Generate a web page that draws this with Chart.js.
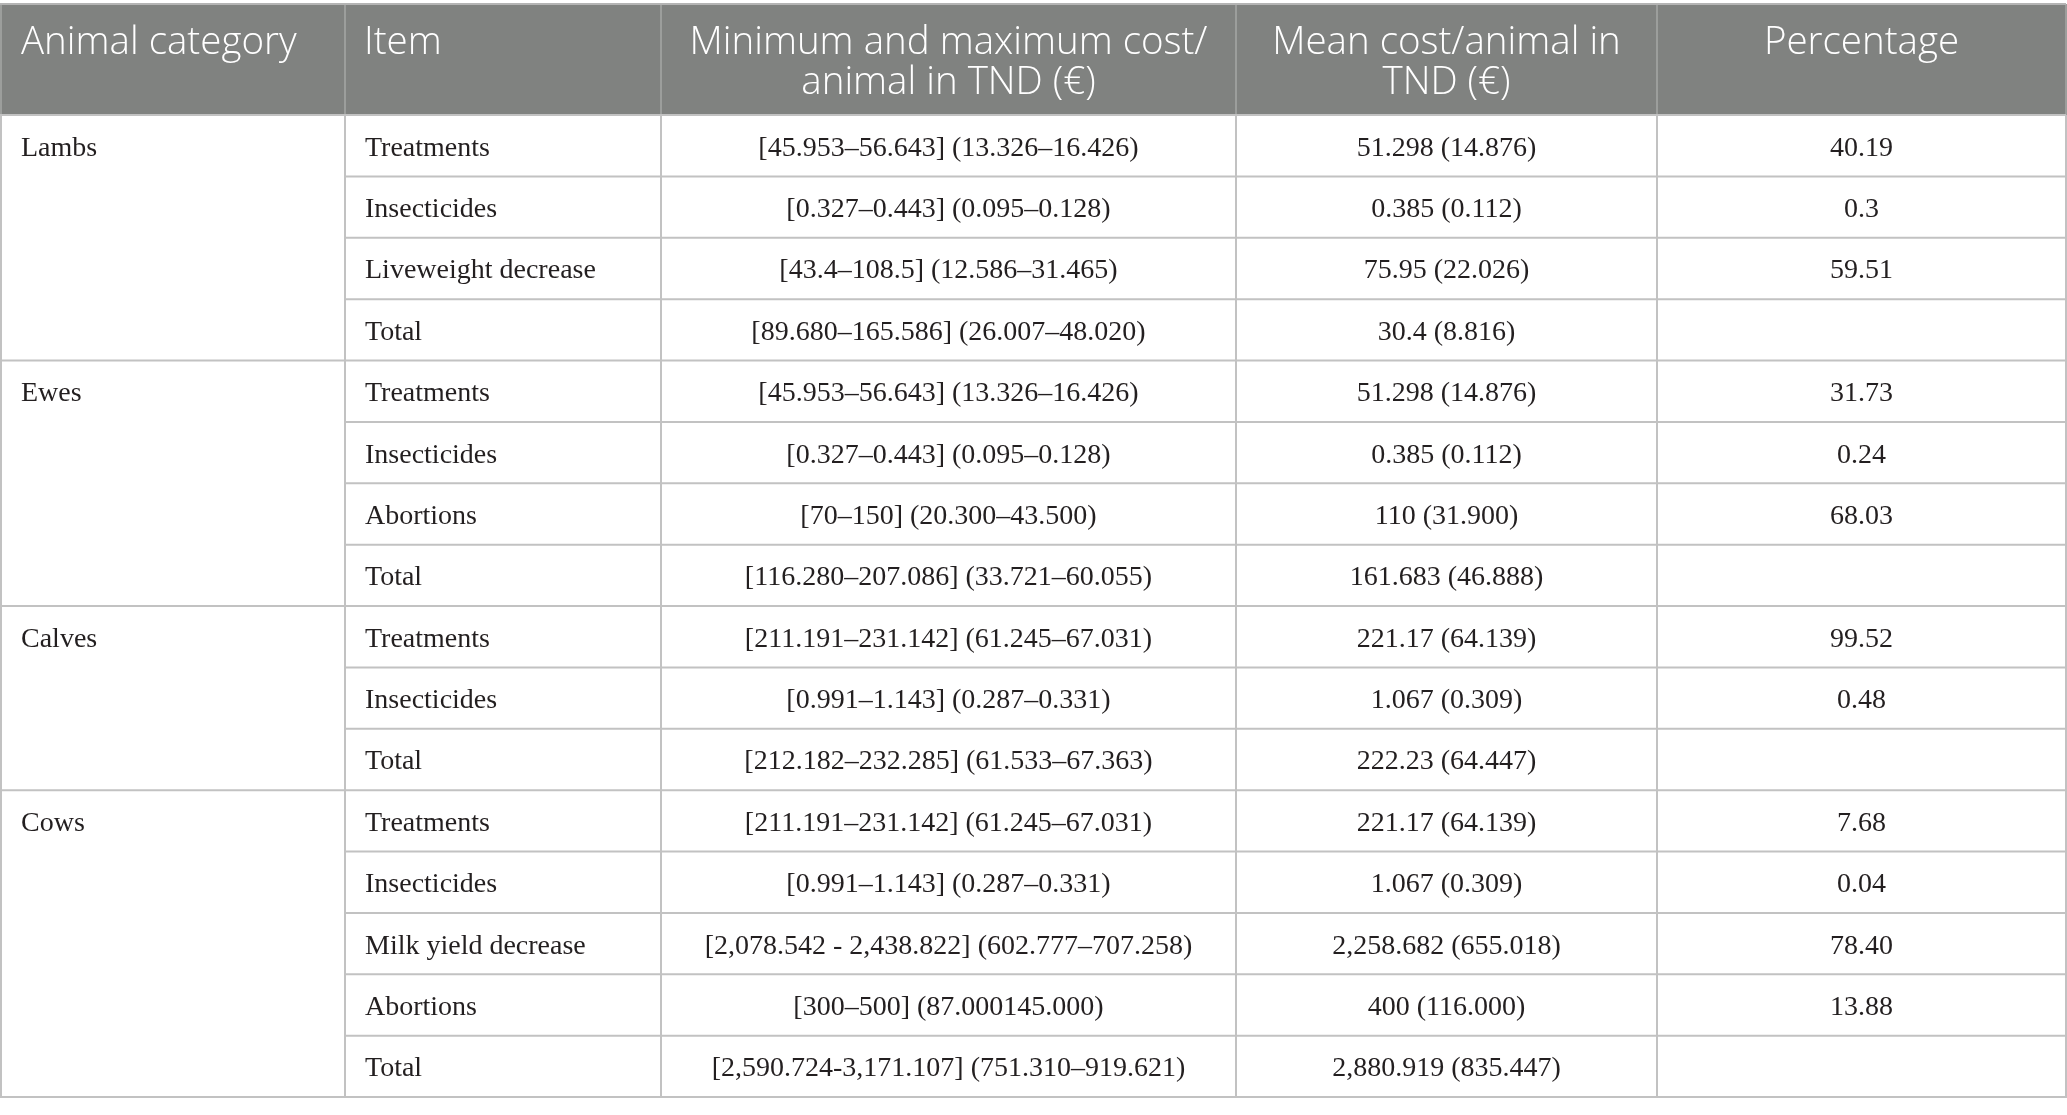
<!DOCTYPE html>
<html>
<head>
<meta charset="utf-8">
<script src="https://cdn.jsdelivr.net/npm/chart.js@4"></script>
<style>
html,body{margin:0;padding:0;background:#fff;overflow:hidden}
canvas{display:block}
</style>
</head>
<body>
<canvas id="c" width="2067" height="1115" style="width:2067px;height:1115px"></canvas>
<script>
// ---- data ----
const headers = [
  ['Animal category'],
  ['Item'],
  ['Minimum and maximum cost/', 'animal in TND (€)'],
  ['Mean cost/animal in', 'TND (€)'],
  ['Percentage']
];
const groups = ['Lambs', 'Ewes', 'Calves', 'Cows'];
const groupSizes = [4, 4, 3, 5];
const items = ['Treatments','Insecticides','Liveweight decrease','Total',
  'Treatments','Insecticides','Abortions','Total',
  'Treatments','Insecticides','Total',
  'Treatments','Insecticides','Milk yield decrease','Abortions','Total'];
const costRanges = ['[45.953–56.643] (13.326–16.426)','[0.327–0.443] (0.095–0.128)','[43.4–108.5] (12.586–31.465)','[89.680–165.586] (26.007–48.020)',
  '[45.953–56.643] (13.326–16.426)','[0.327–0.443] (0.095–0.128)','[70–150] (20.300–43.500)','[116.280–207.086] (33.721–60.055)',
  '[211.191–231.142] (61.245–67.031)','[0.991–1.143] (0.287–0.331)','[212.182–232.285] (61.533–67.363)',
  '[211.191–231.142] (61.245–67.031)','[0.991–1.143] (0.287–0.331)','[2,078.542 - 2,438.822] (602.777–707.258)','[300–500] (87.000145.000)','[2,590.724-3,171.107] (751.310–919.621)'];
const meanCosts = ['51.298 (14.876)','0.385 (0.112)','75.95 (22.026)','30.4 (8.816)',
  '51.298 (14.876)','0.385 (0.112)','110 (31.900)','161.683 (46.888)',
  '221.17 (64.139)','1.067 (0.309)','222.23 (64.447)',
  '221.17 (64.139)','1.067 (0.309)','2,258.682 (655.018)','400 (116.000)','2,880.919 (835.447)'];
const percentages = ['40.19','0.3','59.51','',
  '31.73','0.24','68.03','',
  '99.52','0.48','',
  '7.68','0.04','78.40','13.88',''];

// ---- layout (scale units) ----
const X_MAX = 2066;
const COL_EDGES = [0, 345, 661, 1236, 1657, 2066];
const HEADER_ROWS = 1.8086;
const N_ROWS = items.length;
const HEAD_FONT = '300 38.5px "Open Sans"';
const BODY_FONT = '28px "Liberation Serif"';

const tablePlugin = {
  id: 'tablePlugin',
  afterDraw(chart) {
    const ctx = chart.ctx;
    const xs = chart.scales.x, ys = chart.scales.y;
    const px = v => xs.getPixelForValue(v);
    const py = v => ys.getPixelForValue(v);
    const columns = [null, items, costRanges, meanCosts, percentages];

    ctx.save();
    // header background
    ctx.fillStyle = '#808280';
    ctx.fillRect(px(0), py(-HEADER_ROWS), px(X_MAX) - px(0), py(0) - py(-HEADER_ROWS));

    // header lines
    ctx.lineWidth = 2;
    ctx.strokeStyle = '#9c9e9c';
    COL_EDGES.forEach(e => {
      const xx = px(e) + (e === 0 ? 1 : 0);
      ctx.beginPath(); ctx.moveTo(xx, py(-HEADER_ROWS)); ctx.lineTo(xx, py(0)); ctx.stroke();
    });
    ctx.strokeStyle = '#b4b4b4';
    ctx.beginPath(); ctx.moveTo(px(0), py(-HEADER_ROWS)); ctx.lineTo(px(X_MAX), py(-HEADER_ROWS)); ctx.stroke();

    // body lines
    ctx.strokeStyle = '#c2c2c2';
    const groupStarts = new Set();
    let acc = 0;
    groupSizes.forEach(s => { groupStarts.add(acc); acc += s; });
    groupStarts.add(N_ROWS);
    for (let r = 0; r <= N_ROWS; r++) {
      const x0 = groupStarts.has(r) ? COL_EDGES[0] : COL_EDGES[1];
      ctx.beginPath(); ctx.moveTo(px(x0), py(r)); ctx.lineTo(px(X_MAX), py(r)); ctx.stroke();
    }
    COL_EDGES.forEach(e => {
      const xx = px(e) + (e === 0 ? 1 : 0);
      ctx.beginPath(); ctx.moveTo(xx, py(0)); ctx.lineTo(xx, py(N_ROWS) + 1); ctx.stroke();
    });

    // header text
    ctx.fillStyle = '#ffffff';
    ctx.font = HEAD_FONT;
    ctx.textBaseline = 'alphabetic';
    headers.forEach((lines, c) => {
      lines.forEach((t, li) => {
        const y = py(-HEADER_ROWS) + 50 + li * 40;
        if (c < 2) { ctx.textAlign = 'left'; ctx.fillText(t, px(COL_EDGES[c]) + (c === 0 ? 21 : 19), y); }
        else { ctx.textAlign = 'center'; ctx.fillText(t, (px(COL_EDGES[c]) + px(COL_EDGES[c + 1])) / 2, y); }
      });
    });

    // body text
    ctx.fillStyle = '#231f20';
    ctx.font = BODY_FONT;
    acc = 0;
    groups.forEach((g, gi) => {
      ctx.textAlign = 'left';
      ctx.fillText(g, px(COL_EDGES[0]) + 21, py(acc + 0.5) + 10);
      acc += groupSizes[gi];
    });
    for (let r = 0; r < N_ROWS; r++) {
      const y = py(r + 0.5) + 10;
      ctx.textAlign = 'left';
      ctx.fillText(items[r], px(COL_EDGES[1]) + 20, y);
      ctx.textAlign = 'center';
      for (let c = 2; c < 5; c++) {
        const t = columns[c][r];
        if (t) ctx.fillText(t, (px(COL_EDGES[c]) + px(COL_EDGES[c + 1])) / 2, y);
      }
    }
    ctx.restore();
  }
};

function make() {
  new Chart(document.getElementById('c'), {
    type: 'scatter',
    data: { datasets: [{ data: [] }] },
    options: {
      responsive: false,
      animation: false,
      devicePixelRatio: 1,
      layout: { padding: { left: 0, right: 1, top: 4, bottom: 18 } },
      plugins: { legend: { display: false }, tooltip: { enabled: false } },
      scales: {
        x: { type: 'linear', min: 0, max: X_MAX, display: false },
        y: { type: 'linear', min: -HEADER_ROWS, max: N_ROWS, reverse: true, display: false }
      }
    },
    plugins: [tablePlugin]
  });
}
Promise.all([
  document.fonts.load(HEAD_FONT),
  document.fonts.load(BODY_FONT)
]).then(make, make);
</script>
</body>
</html>
